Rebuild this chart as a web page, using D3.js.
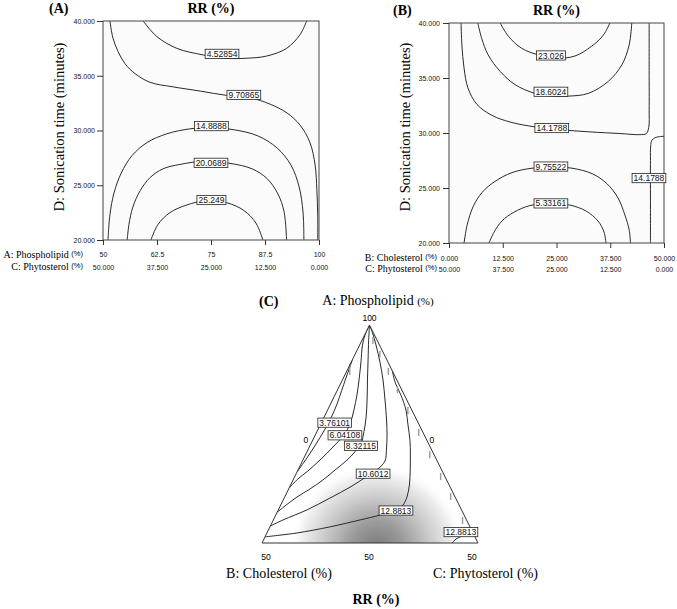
<!DOCTYPE html>
<html lang="en">
<head>
<meta charset="UTF-8">
<title>RR (%) contour plots</title>
<script src="https://cdnjs.cloudflare.com/ajax/libs/d3/7.8.5/d3.min.js"></script>
<style>
  body { margin: 0; background: #fff; }
  svg { display: block; }
  .serif { font-family: "Liberation Serif", "Times New Roman", serif; }
  .sans { font-family: "Liberation Sans", Arial, sans-serif; }
  .contour { fill: none; stroke: #2a2a2a; stroke-width: 1; }
</style>
</head>
<body>
<svg id="chart" width="677" height="609"></svg>
<script>
// ---------- data ----------
var timeTicks = [20, 25, 30, 35, 40];
var phosTicks = [50, 62.5, 75, 87.5, 100];
var cholTicks = [0, 12.5, 25, 37.5, 50];

// panel A : x = A Phospholipid (%), y = D sonication time (min)
var levelsA = ["4.52854", "9.70865", "14.8888", "20.0689", "25.249"];
var labelAtA = [[77.55, 37.0], [82.6, 33.25], [75.1, 30.4], [75.0, 27.05], [75.1, 23.65]];
var lineA1 = [[59.3,40],[62.4,38.6],[67.1,37.5],[73.2,36.9],[77.9,36.6],[83.3,36.6],[87.9,36.8],[92.5,37.5],[95.6,38.75],[97.15,40]];
var lineA2 = [[51.6,40],[52.3,38.45],[53.5,37.2],[55.1,36.1],[57.4,35.2],[60.9,34.4],[66.0,34.0],[72.5,33.6],[78.7,33.2],[84.0,33.0],[88.7,32.4],[92.6,31.6],[95.6,30.5],[97.9,28.9],[99.1,26.85],[99.5,24.6],[99.7,22.3],[99.7,20]];
var lineA3 = [[51.16,20],[51.6,22.3],[52.55,24.3],[54.2,26.1],[56.7,27.7],[60.2,28.9],[64.8,29.7],[70.1,30.15],[74.8,30.25],[80.6,30.05],[85.9,29.5],[90.3,28.4],[93.5,26.85],[95.4,24.85],[96.3,22.55],[96.5,20]];
var lineA4 = [[55.6,20],[56.0,21.4],[56.9,23.0],[58.6,24.5],[60.9,25.7],[63.9,26.5],[67.8,26.9],[73.6,27.2],[79.4,27.0],[84.5,26.5],[88.0,25.6],[90.5,24.2],[91.9,22.6],[92.5,20]];
var lineA5 = [[61.1,20],[62.7,21.4],[65.5,22.5],[69.4,23.2],[74.1,23.6],[78.7,23.4],[82.6,22.7],[85.4,21.55],[87.0,20]];

// panel B : x = B Cholesterol (%), y = D sonication time (min)
var levelsB = ["23.026", "18.6024", "14.1788", "14.1788", "9.75522", "5.33161"];
var labelAtB = [[23.7, 37.05], [23.7, 33.75], [23.9, 30.45], [46.5, 25.9], [23.7, 26.95], [23.7, 23.6]];
var lineB1 = [[11.9,40],[13.8,38.8],[16.9,37.7],[20.8,37.1],[24.9,36.8],[29.3,37.0],[33.2,37.9],[35.9,38.9],[37.4,40]];
var lineB2 = [[6.7,40],[7.6,38.6],[9.1,37.1],[11.9,35.6],[15.35,34.4],[20.0,33.6],[24.2,33.35],[27.7,33.35],[32.4,33.6],[37.05,34.7],[40.2,36.2],[41.9,38.0],[42.5,40]];
var lineB3 = [[2.8,40],[3.0,38.0],[3.5,35.9],[4.4,34.1],[6.5,32.6],[10.0,31.6],[14.2,31.0],[20.0,30.55],[25.8,30.3],[32.8,30.1],[39.8,29.95],[44.4,29.85],[45.9,29.95],[46.45,30.5],[46.55,32.1],[46.55,35.7],[46.55,40]];
var lineB4 = [[50,29.7],[48.1,29.6],[47.2,29.35],[46.9,28.8],[46.85,27.5],[46.85,23.9],[46.85,20]];
var lineB5 = [[3.5,20],[4.2,21.6],[5.6,23.3],[7.7,24.6],[10.7,25.6],[14.65,26.4],[19.3,26.8],[23.95,26.9],[28.6,26.8],[33.3,26.3],[36.7,25.4],[39.3,24.1],[40.9,22.55],[41.9,21.2],[42.2,20]];
var lineB6 = [[9.3,20],[10.5,21.0],[12.3,22.0],[15.1,22.8],[18.8,23.4],[23.7,23.6],[28.1,23.45],[31.9,22.9],[34.65,22.0],[36.05,21.0],[36.5,20]];

// panel C : mixture, points as [A Phospholipid, C Phytosterol], B = 100 - A - C
var levelsC = ["3.76101", "6.04108", "8.32115", "10.6012", "12.8813", "12.8813"];
var labelAtC = [[77.6, 3.1], [74.7, 6.9], [72.3, 11.8], [65.9, 17.8], [57.45, 27.3], [52.5, 44.8]];
var lineC1 = [[66.3,0],[69.5,0.7],[72.7,1.2],[75.7,1.55],[78.7,1.7],[81.9,1.5],[84.9,1.05],[87.8,0.6],[90.1,0.28],[92.0,0]];
var lineC2 = [[62.6,0],[64.7,1.0],[66.5,2.4],[68.6,3.7],[70.6,4.8],[72.7,5.8],[74.8,6.65],[77.3,6.8],[80.5,6.1],[83.9,5.1],[87.4,3.85],[91.5,2.25],[95.4,0.66],[97.7,0.1],[100,0]];
var lineC3 = [[57.1,0],[58.5,1.1],[60.55,2.85],[62.4,4.95],[64.45,6.9],[66.7,8.55],[69.0,10.2],[70.9,11.1],[72.7,11.6],[75.5,10.9],[78.7,9.8],[82.8,8.0],[87.4,5.8],[92.0,3.65],[96.6,1.5],[100,0]];
var lineC4 = [[53.9,0],[55.3,2.25],[57.6,6.65],[60.3,10.6],[62.8,14.0],[65.1,16.5],[67.0,18.4],[68.8,19.1],[71.3,18.2],[74.8,16.6],[78.2,14.8],[82.8,12.15],[87.4,9.4],[91.5,6.65],[95.4,3.8],[98.2,1.6],[100,0]];
var lineC5 = [[51.4,0],[51.8,3.25],[52.3,6.95],[53.7,13.9],[55.3,20.1],[56.4,24.1],[57.6,27.25],[58.7,28.3],[60.55,28.3],[63.3,27.5],[66.7,26.0],[70.2,24.3],[73.6,22.5],[77.1,20.3],[80.5,18.15],[83.9,15.3],[86.7,12.6],[89.5,10.5]];
var lineC6 = [[50,44.0],[50.9,44.45],[51.6,45.5],[52.2,46.6],[52.75,47.25]];
// grey stubs along the edges (A value where they start)
var rightEdgeStubs = [97.5, 94.3, 90.4, 86.2, 81.4, 76.4, 71.3, 66.3, 61.7, 56.2];
var leftEdgeStubs = [91.3];

// ---------- drawing ----------
var svg = d3.select("#chart");
var fmt3 = d3.format(".3f");

function addLabel(g, px, py, txt) {
    var lg = g.append("g").attr("transform", "translate(" + px + "," + py + ")");
    var r = lg.append("rect");
    var t = lg.append("text")
        .attr("class", "sans")
        .attr("text-anchor", "middle")
        .attr("dy", "0.36em")
        .style("font-size", "8.5px")
        .style("fill", "#111")
        .text(txt);
    var w = t.node().getComputedTextLength();
    r.attr("x", -w / 2 - 1.5).attr("y", -4.6)
        .attr("width", w + 3).attr("height", 9.2)
        .attr("fill", "#fff").attr("stroke", "#222").attr("stroke-width", 0.8);
}

function styleAxis(sel) {
    sel.select(".domain").remove();
    sel.selectAll(".tick line").attr("stroke", "#333");
    sel.selectAll(".tick text")
        .attr("class", "sans")
        .style("font-size", "7px")
        .style("fill", "#111");
}

function contourPanel(cfg) {
    var b = cfg.box;
    var g = svg.append("g");
    var x = d3.scaleLinear().domain(cfg.xDomain).range([b.x0, b.x1]);
    var y = d3.scaleLinear().domain([20, 40]).range([b.y1, b.y0]);

    g.append("clipPath").attr("id", cfg.id + "clip")
        .append("rect").attr("x", b.x0).attr("y", b.y0)
        .attr("width", b.x1 - b.x0).attr("height", b.y1 - b.y0);

    g.append("rect").attr("x", b.x0).attr("y", b.y0)
        .attr("width", b.x1 - b.x0).attr("height", b.y1 - b.y0)
        .attr("fill", "#fbfbfb");

    var line = d3.line()
        .x(d => x(d[0])).y(d => y(d[1]))
        .curve(d3.curveCatmullRom.alpha(0.5));

    g.append("g").attr("clip-path", "url(#" + cfg.id + "clip)")
        .selectAll("path").data(cfg.lines).enter()
        .append("path").attr("class", "contour").attr("d", line);

    g.append("rect").attr("x", b.x0).attr("y", b.y0)
        .attr("width", b.x1 - b.x0).attr("height", b.y1 - b.y0)
        .attr("fill", "none").attr("stroke", "#444").attr("stroke-width", 1);

    cfg.levels.forEach((lv, i) => addLabel(g, x(cfg.labelAt[i][0]), y(cfg.labelAt[i][1]), lv));

    g.append("g").attr("transform", "translate(" + b.x0 + ",0)")
        .call(d3.axisLeft(y).tickValues(timeTicks).tickFormat(fmt3).tickSize(6).tickPadding(cfg.yPad))
        .call(styleAxis);

    g.append("g").attr("transform", "translate(0," + b.y1 + ")")
        .call(d3.axisBottom(x).tickValues(cfg.xTicks).tickFormat(cfg.xFmt).tickSize(5).tickPadding(cfg.pad1))
        .call(styleAxis);

    g.append("g").attr("transform", "translate(0," + b.y1 + ")")
        .call(d3.axisBottom(x).tickValues(cfg.xTicks).tickFormat(cfg.x2Fmt).tickSize(0).tickPadding(cfg.pad2))
        .call(styleAxis);

    // factor names under the axis
    [cfg.name1, cfg.name2].forEach((nm, i) => {
        var t = g.append("text").attr("class", "serif")
            .attr("x", cfg.nameX).attr("y", cfg.nameY[i])
            .attr("text-anchor", "end").style("font-size", "10px");
        t.append("tspan").text(nm + " ");
        t.append("tspan").attr("class", "sans").attr("dy", -2).style("font-size", "7.5px").text("(%)");
    });

    g.append("text").attr("class", "serif")
        .attr("transform", "translate(" + cfg.yLabelX + ",127) rotate(-90)")
        .attr("text-anchor", "middle").style("font-size", "14.5px")
        .text("D: Sonication time (minutes)");

    g.append("text").attr("class", "serif")
        .attr("x", cfg.tagX).attr("y", cfg.titleY)
        .style("font-size", "14px").style("font-weight", "bold").text(cfg.tag);
    g.append("text").attr("class", "serif")
        .attr("x", (b.x0 + b.x1) / 2 - 0).attr("y", cfg.titleY)
        .attr("text-anchor", "middle")
        .style("font-size", "14px").style("font-weight", "bold").text("RR (%)");
}

contourPanel({
    id: "pa", box: {x0: 103, x1: 319, y0: 21, y1: 240},
    xDomain: [50, 100], xTicks: phosTicks,
    xFmt: d => String(d), x2Fmt: d => fmt3(100 - d),
    pad1: 7, pad2: 25, yPad: 2,
    lines: [lineA1, lineA2, lineA3, lineA4, lineA5],
    levels: levelsA, labelAt: labelAtA,
    name1: "A:  Phospholipid", name2: "C:  Phytosterol",
    nameX: 83, nameY: [257.5, 270],
    yLabelX: 64, tag: "(A)", tagX: 49, titleY: 13
});

contourPanel({
    id: "pb", box: {x0: 449, x1: 664, y0: 23, y1: 243},
    xDomain: [0, 50], xTicks: cholTicks,
    xFmt: fmt3, x2Fmt: d => fmt3(50 - d),
    pad1: 8, pad2: 24, yPad: 3,
    lines: [lineB1, lineB2, lineB3, lineB4, lineB5, lineB6],
    levels: levelsB, labelAt: labelAtB,
    name1: "B: Cholesterol", name2: "C: Phytosterol",
    nameX: 437, nameY: [261, 272],
    yLabelX: 410, tag: "(B)", tagX: 393, titleY: 14.5
});

// ---------- panel C : ternary ----------
var apex = [369.5, 325], cornerB = [262, 543], cornerC = [478, 543];
var yOfA = d3.scaleLinear().domain([50, 100]).range([cornerB[1], apex[1]]);
var xOfA = d3.scaleLinear().domain([50, 100]).range([0, apex[0] - cornerB[0]]);
var xOfC = d3.scaleLinear().domain([0, 50]).range([0, cornerC[0] - cornerB[0]]);
function tern(d) { return [cornerB[0] + xOfA(d[0]) + xOfC(d[1]), yOfA(d[0])]; }

var gc = svg.append("g");
var triPath = "M" + apex + "L" + cornerB + "L" + cornerC + "Z";

var defs = svg.append("defs");
defs.append("clipPath").attr("id", "triClip").append("path").attr("d", triPath);
var grad = defs.append("radialGradient").attr("id", "rrShade");
[[0, "#7a7a7a", 1], [0.3, "#9a9a9a", 1], [0.6, "#cacaca", 1], [0.85, "#eeeeee", 1], [1, "#ffffff", 0]]
    .forEach(s => grad.append("stop").attr("offset", s[0]).attr("stop-color", s[1]).attr("stop-opacity", s[2]));

gc.append("path").attr("d", triPath).attr("fill", "#fff");
gc.append("g").attr("clip-path", "url(#triClip)")
    .append("ellipse").attr("cx", 377).attr("cy", 548).attr("rx", 88).attr("ry", 84)
    .attr("fill", "url(#rrShade)");

var tline = d3.line().x(d => tern(d)[0]).y(d => tern(d)[1]).curve(d3.curveCatmullRom.alpha(0.5));
gc.append("g").attr("clip-path", "url(#triClip)")
    .selectAll("path").data([lineC1, lineC2, lineC3, lineC4, lineC5, lineC6]).enter()
    .append("path").attr("class", "contour").attr("d", tline);

// grey stubs
rightEdgeStubs.forEach(a => {
    var p = tern([a, 100 - a]);
    gc.append("line").attr("x1", p[0] - 2).attr("x2", p[0] - 2).attr("y1", p[1] + 1).attr("y2", p[1] + 8)
        .attr("stroke", "#9a9a9a").attr("stroke-width", 1.4);
});
leftEdgeStubs.forEach(a => {
    var p = tern([a, 0]);
    gc.append("line").attr("x1", p[0] - 1).attr("x2", p[0] - 1).attr("y1", p[1] + 1).attr("y2", p[1] + 12)
        .attr("stroke", "#9a9a9a").attr("stroke-width", 1.4);
});

gc.append("path").attr("d", triPath).attr("fill", "none").attr("stroke", "#333").attr("stroke-width", 1);

levelsC.forEach((lv, i) => { var p = tern(labelAtC[i]); addLabel(gc, p[0], p[1], lv); });

// vertex / edge tick labels
function tickText(x, y, s) {
    gc.append("text").attr("class", "sans").attr("x", x).attr("y", y)
        .attr("text-anchor", "middle").style("font-size", "8.5px").text(s);
}
var mid = tern([75, 0]), midR = tern([75, 25]), midB = tern([50, 25]);
tickText(apex[0], apex[1] - 4, "100");
tickText(mid[0] - 10, mid[1] + 9, "0");
tickText(midR[0] + 8, midR[1] + 9, "0");
tickText(cornerB[0] + 4, cornerB[1] + 17, "50");
tickText(midB[0] - 1, midB[1] + 17, "50");
tickText(cornerC[0] - 6, cornerC[1] + 17, "50");

var tA = gc.append("text").attr("class", "serif").attr("x", 378).attr("y", 305)
    .attr("text-anchor", "middle").style("font-size", "14px");
tA.append("tspan").text("A: Phospholipid ");
tA.append("tspan").style("font-size", "11px").text("(%)");

gc.append("text").attr("class", "serif").attr("x", 259).attr("y", 306)
    .style("font-size", "14px").style("font-weight", "bold").text("(C)");
gc.append("text").attr("class", "serif").attr("x", 279).attr("y", 578)
    .attr("text-anchor", "middle").style("font-size", "14px").text("B: Cholesterol (%)");
gc.append("text").attr("class", "serif").attr("x", 433).attr("y", 578)
    .style("font-size", "14px").text("C: Phytosterol (%)");
gc.append("text").attr("class", "serif").attr("x", 376).attr("y", 604)
    .attr("text-anchor", "middle").style("font-size", "14px").style("font-weight", "bold").text("RR (%)");
</script>
</body>
</html>
